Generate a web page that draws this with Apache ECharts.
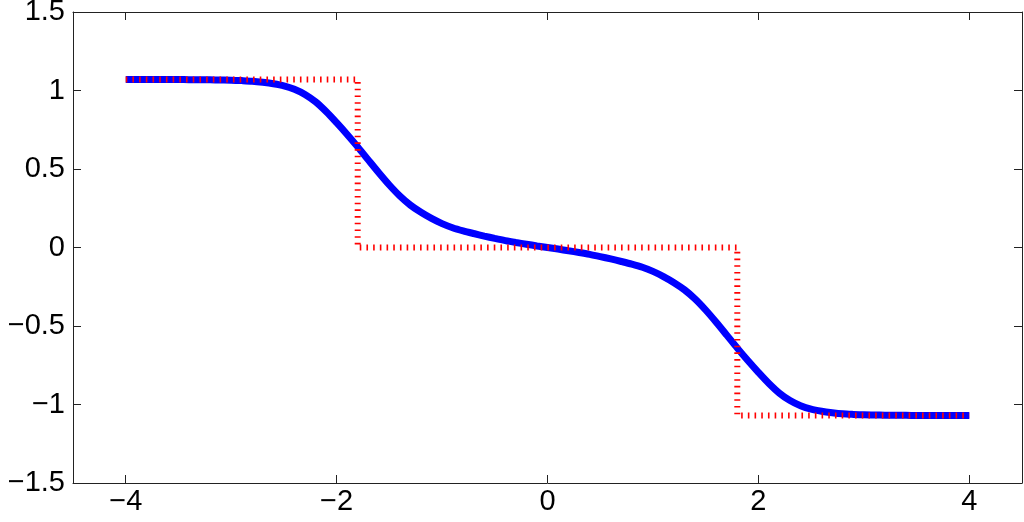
<!DOCTYPE html>
<html><head><meta charset="utf-8">
<script src="https://cdn.jsdelivr.net/npm/echarts@6/dist/echarts.min.js"></script>
<style>html,body{margin:0;padding:0;background:#fff}#c{width:1024px;height:522px}</style>
</head><body><div id="c"></div>
<script>
// Data
const smoothX = [-4, -3.9, -3.8, -3.7, -3.6, -3.5, -3.4, -3.3, -3.2, -3.1, -3, -2.9, -2.8, -2.7, -2.6, -2.5, -2.4, -2.3, -2.2, -2.1,
                 -2, -1.9, -1.8, -1.7, -1.6, -1.5, -1.4, -1.3, -1.2, -1.1, -1, -0.9, -0.8, -0.7, -0.6, -0.5, -0.4, -0.3, -0.2, -0.1,
                 0, 0.1, 0.2, 0.3, 0.4, 0.5, 0.6, 0.7, 0.8, 0.9, 1, 1.1, 1.2, 1.3, 1.4, 1.5, 1.6, 1.7, 1.8, 1.9,
                 2, 2.1, 2.2, 2.3, 2.4, 2.5, 2.6, 2.7, 2.8, 2.9, 3, 3.1, 3.2, 3.3, 3.4, 3.5, 3.6, 3.7, 3.8, 3.9, 4];
const smoothY = [1.070, 1.070, 1.070, 1.070, 1.070, 1.070, 1.069, 1.069, 1.068, 1.067, 1.066, 1.063, 1.059, 1.052, 1.043, 1.030, 1.008, 0.975, 0.928, 0.866,
                 0.795, 0.720, 0.641, 0.558, 0.476, 0.398, 0.328, 0.270, 0.224, 0.185, 0.152, 0.126, 0.106, 0.089, 0.073, 0.058, 0.044, 0.032, 0.021, 0.010,
                 0, -0.010, -0.021, -0.032, -0.044, -0.058, -0.073, -0.089, -0.106, -0.126, -0.152, -0.185, -0.224, -0.270, -0.328, -0.398, -0.476, -0.558, -0.641, -0.720,
                 -0.795, -0.866, -0.928, -0.975, -1.008, -1.030, -1.043, -1.052, -1.059, -1.063, -1.066, -1.067, -1.068, -1.069, -1.069, -1.070, -1.070, -1.070, -1.070, -1.070, -1.070];
const stepX = [-4, -1.8, -1.8, 1.8, 1.8, 4];
const stepY = [1.07, 1.07, 0, 0, -1.07, -1.07];
const xTicks = [-4, -2, 0, 2, 4];

const pair = (xs, ys) => xs.map((x, i) => [x, ys[i]]);
const fmt = v => String(v).replace('-', '\u2212');
const axisCol = '#222';
const labelStyle = {color: '#000', fontSize: 29, fontFamily: 'Liberation Sans, Arial, sans-serif'};

const chart = echarts.init(document.getElementById('c'), null, {renderer: 'canvas'});
chart.setOption({
  animation: false,
  backgroundColor: '#fff',
  grid: {left: 73, right: 2, top: 12, bottom: 39, containLabel: false, outerBoundsMode: 'none'},
  xAxis: [{
    type: 'value', min: -4.5, max: 4.5, position: 'bottom',
    axisLine: {show: true, onZero: false, lineStyle: {color: axisCol, width: 1}},
    axisTick: {show: true, inside: true, length: 8, customValues: xTicks, lineStyle: {color: axisCol}},
    axisLabel: Object.assign({customValues: xTicks, margin: 4, formatter: fmt}, labelStyle),
    splitLine: {show: false}
  }, {
    type: 'value', min: -4.5, max: 4.5, position: 'top',
    axisLine: {show: true, onZero: false, lineStyle: {color: axisCol, width: 1}},
    axisTick: {show: true, inside: true, length: 8, customValues: xTicks, lineStyle: {color: axisCol}},
    axisLabel: {show: false},
    splitLine: {show: false}
  }],
  yAxis: [{
    type: 'value', min: -1.5, max: 1.5, interval: 0.5, position: 'left',
    axisLine: {show: true, onZero: false, lineStyle: {color: axisCol, width: 1}},
    axisTick: {show: true, inside: true, length: 8, lineStyle: {color: axisCol}},
    axisLabel: Object.assign({margin: 8, formatter: fmt}, labelStyle),
    splitLine: {show: false}
  }, {
    type: 'value', min: -1.5, max: 1.5, interval: 0.5, position: 'right',
    axisLine: {show: true, onZero: false, lineStyle: {color: axisCol, width: 1}},
    axisTick: {show: true, inside: true, length: 8, lineStyle: {color: axisCol}},
    axisLabel: {show: false},
    splitLine: {show: false}
  }],
  series: [{
    type: 'line', data: pair(smoothX, smoothY), smooth: 0.3, symbol: 'none', z: 2,
    lineStyle: {color: '#0000ff', width: 7}
  }, {
    type: 'line', data: pair(stepX, stepY), symbol: 'none', z: 3,
    lineStyle: {color: '#ff0000', width: 6, type: [1.6, 5.1], cap: 'butt'}
  }]
});
</script></body></html>
